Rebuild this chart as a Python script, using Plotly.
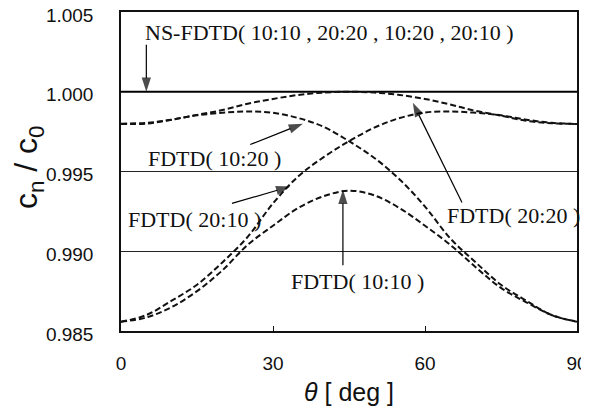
import plotly.graph_objects as go

theta = [0, 5, 10, 15, 20, 25, 30, 35, 40, 45, 50, 55, 60, 65, 70, 75, 80, 85, 90]

ns_fdtd = [1.0] * len(theta)
fdtd_10_10 = [0.98558, 0.98585, 0.98650, 0.98750, 0.98880, 0.99040, 0.99160, 0.99272, 0.99345, 0.99380,
              0.99350, 0.99270, 0.99160, 0.99040, 0.98900, 0.98770, 0.98680, 0.98600, 0.98558]
fdtd_20_20 = [0.99800, 0.99805, 0.99825, 0.99855, 0.99885, 0.99925, 0.99955, 0.99980, 0.99995, 1.00000,
              0.99995, 0.99980, 0.99955, 0.99920, 0.99880, 0.99850, 0.99818, 0.99803, 0.99798]
fdtd_10_20 = [0.99798, 0.99800, 0.99825, 0.99852, 0.99868, 0.99876, 0.99868, 0.99835, 0.99780, 0.99690,
              0.99585, 0.99450, 0.99280, 0.99080, 0.98930, 0.98790, 0.98690, 0.98600, 0.98558]
fdtd_20_10 = [0.98558, 0.98600, 0.98690, 0.98790, 0.98930, 0.99090, 0.99300, 0.99470, 0.99590, 0.99690,
              0.99775, 0.99835, 0.99870, 0.99876, 0.99868, 0.99852, 0.99825, 0.99805, 0.99798]

y_ticks = [0.985, 0.990, 0.995, 1.000, 1.005]
y_tick_labels = ["0.985", "0.990", "0.995", "1.000", "1.005"]
x_ticks = [0, 30, 60, 90]
x_title = "<i>θ</i> [ deg ]"
y_title = "c<sub>n</sub> / c<sub>0</sub>"

# labels: (text, text_x, text_y, arrow_tail_x, arrow_tail_y, arrow_tip_x, arrow_tip_y)
labels = [
    ("NS-FDTD( 10:10 , 20:20 , 10:20 , 20:10 )", 41.2, 1.00369, 5.0, 1.00294, 5.0, 1.0000),
    ("FDTD( 10:20 )", 18.4, 0.99581, 25.5, 0.99669, 35.9, 0.99800),
    ("FDTD( 20:10 )", 14.6, 0.99200, 21.9, 0.99300, 33.4, 0.99406),
    ("FDTD( 10:10 )", 46.6, 0.98813, 43.8, 0.98913, 43.8, 0.99385),
    ("FDTD( 20:20 )", 77.4, 0.99225, 67.3, 0.99306, 57.6, 0.99931),
]

fig = go.Figure()
fig.add_trace(go.Scatter(x=theta, y=ns_fdtd, mode="lines", name="NS-FDTD",
                         line=dict(color="black", width=2)))
for name, vals in [("FDTD(10:10)", fdtd_10_10), ("FDTD(20:20)", fdtd_20_20),
                   ("FDTD(10:20)", fdtd_10_20), ("FDTD(20:10)", fdtd_20_10)]:
    fig.add_trace(go.Scatter(x=theta, y=vals, mode="lines", name=name,
                             line=dict(color="#111", width=2, dash="6px,3px", shape="spline")))

annotations = []
for text, tx, ty, ax, ay, hx, hy in labels:
    annotations.append(dict(x=tx, y=ty, xref="x", yref="y", text=text, showarrow=False,
                            font=dict(family="Liberation Serif", size=22, color="#111")))
    # arrow: thin line with a filled arrowhead at the tip
    fig.add_trace(go.Scatter(x=[ax, hx], y=[ay, hy], mode="lines+markers", hoverinfo="skip",
                             line=dict(color="#000", width=1.2),
                             marker=dict(symbol=["circle", "arrow"], size=[0, 15], color="#000",
                                         angleref="previous", line=dict(width=0))))

# y-axis title placed as rotated text left of the axis
annotations.append(dict(x=-0.204, y=0.514, xref="paper", yref="paper", text=y_title,
                        textangle=-90, showarrow=False, xanchor="center", yanchor="middle",
                        font=dict(family="Liberation Sans, Arial", size=32, color="#111")))

fig.update_layout(
    width=581, height=404, autosize=False,
    margin=dict(l=113, r=12, t=4, b=81, autoexpand=False),
    paper_bgcolor="white", plot_bgcolor="white",
    showlegend=False,
    annotations=annotations,
    font=dict(family="Liberation Sans, Arial", color="#111"),
)
fig.update_xaxes(range=[0, 90], tickvals=x_ticks, ticks="inside", ticklen=5, tickcolor="#111",
                 showgrid=False, showline=True, linecolor="#111", linewidth=1.5, mirror=True,
                 zeroline=False, tickfont=dict(size=19), automargin=False, ticklabelstandoff=14,
                 ticklabeloverflow="allow",
                 title=dict(text=x_title, font=dict(size=25), standoff=11))
fig.update_yaxes(range=[0.985, 1.005], tickvals=y_ticks, ticktext=y_tick_labels, ticks="",
                 showgrid=True, gridcolor="#222", gridwidth=1,
                 showline=True, linecolor="#111", linewidth=1.5, mirror=True,
                 zeroline=False, tickfont=dict(size=19), automargin=False, ticklabelstandoff=22,
                 ticklabelshift=3, ticklabeloverflow="allow")

fig.write_html("out.html")
